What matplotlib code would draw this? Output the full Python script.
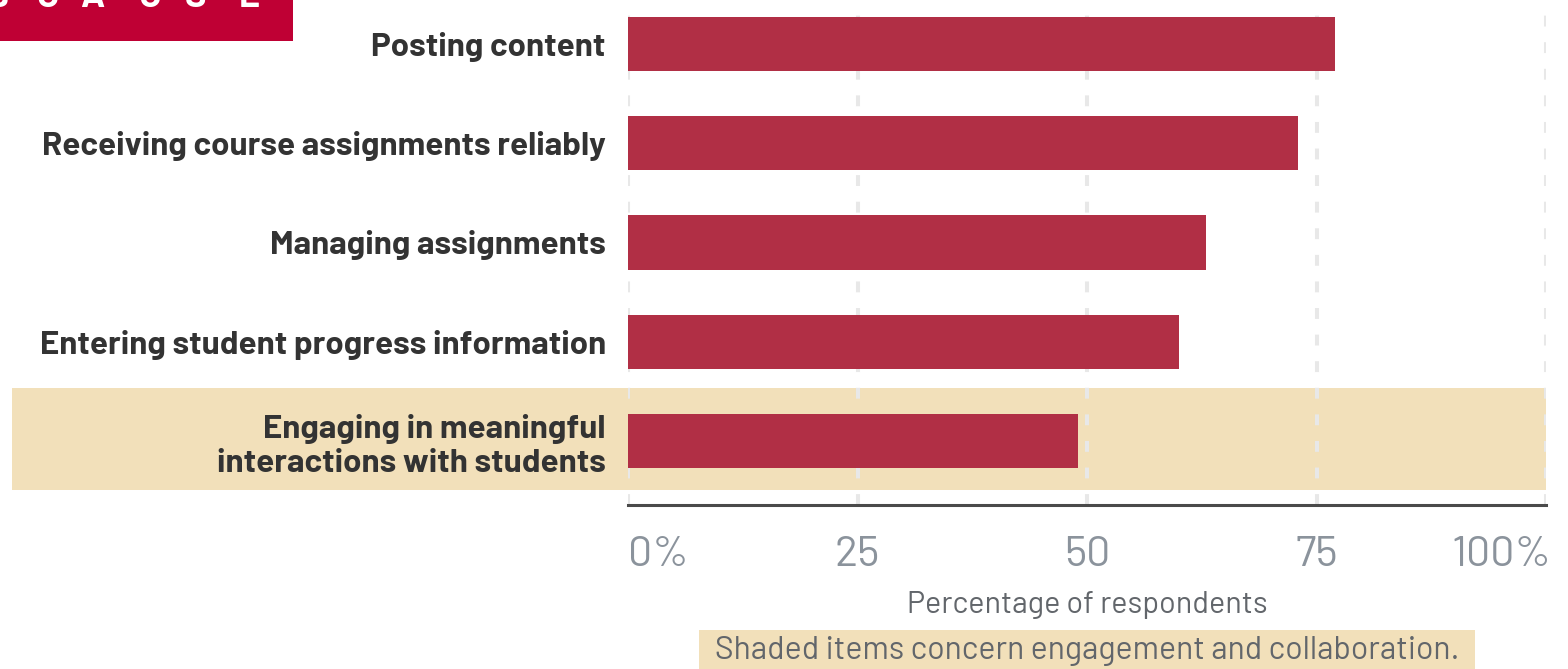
import matplotlib
matplotlib.use("Agg")
import matplotlib.pyplot as plt
from matplotlib.patches import Rectangle
import matplotlib.transforms as mtransforms

plt.rcParams["font.family"] = ["Barlow", "DejaVu Sans"]

# Survey data
categories = [
    "Posting content",
    "Receiving course assignments reliably",
    "Managing assignments",
    "Entering student progress information",
    "Engaging in meaningful\ninteractions with students",
]
values = [77, 73, 63, 60, 49]
shaded = [False, False, False, False, True]
tick_values = [0, 25, 50, 75, 100]
tick_labels = ["0%", "25", "50", "75", "100%"]
banner_letters = ["B", "C", "A", "U", "S", "E"]

BAR_COLOR = "#B12F45"
BAND_COLOR = "#F2E0BA"
GRID_COLOR = "#E8E8E8"
LABEL_COLOR = "#333333"
TICK_COLOR = "#8B939C"
NOTE_COLOR = "#62666B"
BANNER_COLOR = "#BF0034"

W, H = 1568, 669
fig = plt.figure(figsize=(W / 100, H / 100), dpi=100)

ax_left, ax_right, ax_bottom, ax_top = 628, 1546, 505, 0
ax = fig.add_axes([ax_left / W, (H - ax_bottom) / H,
                   (ax_right - ax_left) / W, (ax_bottom - ax_top) / H])

ypos = list(range(len(categories)))
ax.set_xlim(0, 100)
ax.set_ylim(len(categories) - 1 + 0.646, -0.444)

# shaded bands for engagement items
band_tf = mtransforms.blended_transform_factory(ax.transAxes, ax.transData)
for y, s in zip(ypos, shaded):
    if s:
        ax.add_patch(Rectangle((-0.671, y - 0.535), 0.671 + 1.0, 1.03,
                               transform=band_tf, facecolor=BAND_COLOR,
                               edgecolor="none", zorder=0, clip_on=False))

# dashed vertical gridlines
for t in tick_values:
    ax.axvline(t, color=GRID_COLOR, lw=2.9, ls=(0, (2.7, 3.9)), zorder=1)

ax.barh(ypos, values, height=0.545, color=BAR_COLOR, zorder=2)

for side in ["top", "right", "left"]:
    ax.spines[side].set_visible(False)
ax.spines["bottom"].set_color("#4A4A4A")
ax.spines["bottom"].set_linewidth(2.2)
ax.spines["bottom"].set_zorder(3)

ax.set_yticks(ypos)
ax.set_yticklabels(categories, fontsize=23.8, fontweight="bold",
                   color=LABEL_COLOR, linespacing=1.18)
ax.tick_params(axis="y", length=0, pad=16)

# x tick labels: first one starts at the axis origin, last one ends past the axis end
ax.set_xticks(tick_values)
ax.set_xticklabels([])
ax.tick_params(axis="x", length=0)
label_ha = ["left", "center", "center", "center", "right"]
label_dx = [0, 0, 0, 0, 6]
for t, lab, ha, dx in zip(tick_values, tick_labels, label_ha, label_dx):
    ax.annotate(lab, xy=(t, 0), xycoords=("data", "axes fraction"),
                xytext=(dx * 0.72, -22), textcoords="offset points",
                ha=ha, va="top", fontsize=31, color=TICK_COLOR,
                annotation_clip=False)

ax.text(0.5, -0.171, "Percentage of respondents", transform=ax.transAxes,
        ha="center", va="top", fontsize=22, color=NOTE_COLOR)

# note box
note_l, note_r, note_t = 699, 1475, 630
fig.add_artist(Rectangle((note_l / W, 0), (note_r - note_l) / W, (H - note_t) / H,
                         transform=fig.transFigure, facecolor=BAND_COLOR,
                         edgecolor="none", zorder=0))
fig.text((note_l + note_r) / 2 / W, (H - 651) / H,
         "Shaded items concern engagement and collaboration.",
         ha="center", va="center", fontsize=23, color=NOTE_COLOR)

# banner at the top-left corner
fig.add_artist(Rectangle((0, (H - 41) / H), 293 / W, 41 / H,
                         transform=fig.transFigure, facecolor=BANNER_COLOR,
                         edgecolor="none", zorder=0))
letter_x = [-2, 47, 92, 150, 195, 249]
for lx, ch in zip(letter_x, banner_letters):
    fig.text(lx / W, (H - 7) / H, ch, ha="center", va="baseline",
             fontsize=26, fontweight="bold", color="white")

fig.savefig("out.png", dpi=100)
